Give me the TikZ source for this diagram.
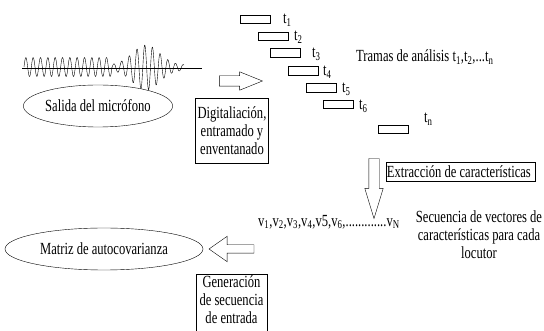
\documentclass[tikz,border=0pt]{standalone}
\usepackage{fontspec}
\setmainfont{Liberation Serif}[FakeStretch=0.74]
\usetikzlibrary{shapes.geometric, shapes.arrows}

\begin{document}
\begin{tikzpicture}[x = 1pt, y = -1pt,
  every node/.style = {font = \fontsize{17}{18}\selectfont},
  box/.style = {draw, align = center, inner sep = 2pt},
  frame/.style = {draw, minimum width = 30pt, minimum height = 8.5pt, inner sep = 0pt},
  tlabel/.style = {anchor = west, inner sep = 0pt},
  hollow/.style = {draw, single arrow}
]
  \useasboundingbox (0, 0) rectangle (544, 331);

  % microphone signal
  \draw (22, 68.5) -- (202, 68.5);
  \draw[line join = round] plot[domain = 24:112, samples = 400]
    (\x, {67 - 9.5*sin(49.09*(\x - 24))});
  \draw[line join = round] plot[domain = 112:184, samples = 400]
    (\x, {67.5 - (2.5 + 20*exp(-((\x - 146)/19)^2))*sin(46.753*(\x - 112))});

  \node[draw, ellipse, minimum width = 130pt, minimum height = 42pt, inner sep = 0pt] (S1) at (98, 106) {
    Salida del micrófono
  };

  \node[hollow, minimum height = 43pt, inner sep = 5pt,
    single arrow head extend = 4pt, single arrow tip angle = 44] (A1) at (234.5, 81) {};

  \node[box, minimum width = 72pt, minimum height = 65pt] (B1) at (232, 130.5) {
    Digitaliación,\\ entramado y\\ enventanado
  };

  % analysis frames
  \node[frame] (F1) at (255.5, 19) {};
  \node[frame] (F2) at (273.5, 36) {};
  \node[frame] (F3) at (285.5, 52.5) {};
  \node[frame] (F4) at (303, 70.5) {};
  \node[frame] (F5) at (321, 87.5) {};
  \node[frame] (F6) at (338.5, 104) {};
  \node[frame] (Fn) at (393, 129) {};

  \node[tlabel] (T1) at (283, 20) {t\textsubscript{1}};
  \node[tlabel] (T2) at (294, 37) {t\textsubscript{2}};
  \node[tlabel] (T3) at (312, 54) {t\textsubscript{3}};
  \node[tlabel] (T4) at (323, 72) {t\textsubscript{4}};
  \node[tlabel] (T5) at (342, 89) {t\textsubscript{5}};
  \node[tlabel] (T6) at (359, 106) {t\textsubscript{6}};
  \node[tlabel] (Tn) at (424, 119) {t\textsubscript{n}};

  \node[tlabel] (L1) at (356, 57) {
    Tramas de análisis t\textsubscript{1},t\textsubscript{2},...t\textsubscript{n}
  };

  \node[hollow, shape border rotate = 270, minimum height = 60pt, inner sep = 5pt,
    single arrow head extend = 4pt, single arrow tip angle = 34] (A2) at (374, 180) {};

  \node[box, minimum width = 147pt, minimum height = 19pt, inner sep = 1pt] (B2) at (460.5, 171.5) {
    Extracción de características
  };

  \node[tlabel] (L2) at (258, 222) {
    v\textsubscript{1},v\textsubscript{2},v\textsubscript{3},v\textsubscript{4},v5,v\textsubscript{6},.............v\textsubscript{N}
  };

  \node[align = center] (L3) at (479, 235) {
    Secuencia de vectores de\\ características para cada\\ locutor
  };

  \node[hollow, shape border rotate = 180, minimum height = 45pt, inner sep = 4pt,
    single arrow head extend = 8.5pt, single arrow tip angle = 70] (A3) at (234.5, 249) {};

  \node[draw, ellipse, minimum width = 198pt, minimum height = 42pt, inner sep = 0pt] (M1) at (104, 249) {
    Matriz de autocovarianza
  };

  % box runs past the bottom edge
  \node[align = center, anchor = north, minimum width = 71pt, inner sep = 1pt] (B3) at (231.5, 274) {
    Generación\\ de secuencia\\ de entrada
  };
  \draw (B3.north west) rectangle ([yshift = -12pt]B3.south east);
\end{tikzpicture}
\end{document}
